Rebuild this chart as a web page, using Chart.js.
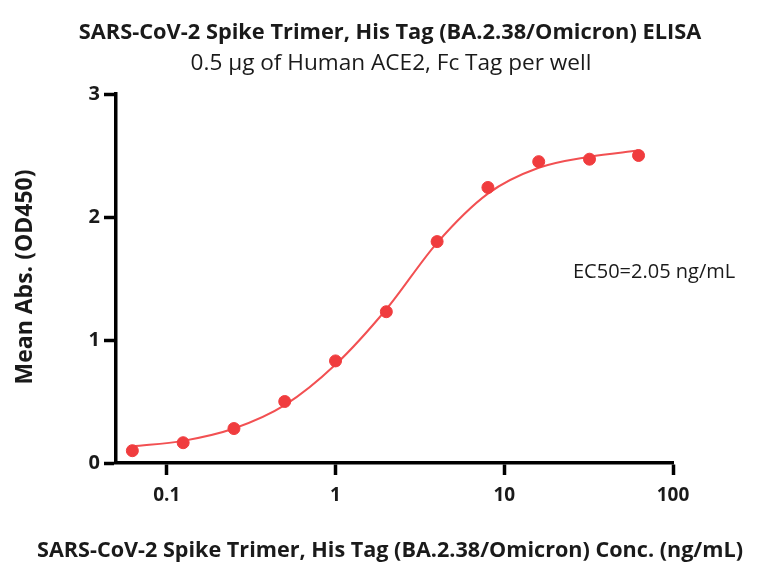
<!DOCTYPE html>
<html>
<head>
<meta charset="utf-8">
<script src="https://cdn.jsdelivr.net/npm/chart.js@4"></script>
<style>
  html, body { margin: 0; padding: 0; background: #fff; }
  #wrap { width: 760px; height: 562px; position: relative; }
</style>
</head>
<body>
<div id="wrap"><canvas id="chart"></canvas></div>
<script>
"use strict";

/* ---- Data ---- */
const concentrations = [0.0625, 0.125, 0.25, 0.5, 1, 2, 4, 8, 16, 32, 62.5];
const meanAbs        = [0.10, 0.165, 0.28, 0.50, 0.83, 1.23, 1.80, 2.24, 2.45, 2.47, 2.50];
const fitAbs         = [0.135, 0.18, 0.28, 0.47, 0.80, 1.25, 1.79, 2.19, 2.40, 2.49, 2.54];
const xTickValues    = [0.1, 1, 10, 100];
const yTickValues    = [0, 1, 2, 3];

const titleText    = "SARS-CoV-2 Spike Trimer, His Tag (BA.2.38/Omicron) ELISA";
const subtitleText = "0.5 µg of Human ACE2, Fc Tag per well";
const xTitleText   = "SARS-CoV-2 Spike Trimer, His Tag (BA.2.38/Omicron) Conc. (ng/mL)";
const yTitleText   = "Mean Abs. (OD450)";
const ec50Text     = "EC50=2.05 ng/mL";

const FONT = "'Open Sans', Lato, sans-serif";
const INK  = "#1a1a1a";
const RED  = "#F03C3E";

/* ---- Titles, axis titles and EC50 note ---- */
const annotations = {
  id: "annotations",
  afterDraw(chart) {
    const { ctx } = chart;
    ctx.save();
    ctx.fillStyle = INK;
    ctx.textBaseline = "alphabetic";
    ctx.textAlign = "center";

    ctx.font = `bold 21.8px ${FONT}`;
    ctx.fillText(titleText, 390, 39);
    ctx.font = `22.6px ${FONT}`;
    ctx.fillText(subtitleText, 391, 70);

    ctx.font = `bold 21.6px ${FONT}`;
    ctx.fillText(xTitleText, 390, 557);

    ctx.save();
    ctx.translate(32, 277);
    ctx.rotate(-Math.PI / 2);
    ctx.font = `bold 23px ${FONT}`;
    ctx.fillText(yTitleText, 0, 0);
    ctx.restore();

    ctx.textAlign = "left";
    ctx.font = `20px ${FONT}`;
    ctx.fillText(ec50Text, 573, 278);
    ctx.restore();
  },
};

new Chart(document.getElementById("chart"), {
  data: {
    datasets: [
      {
        type: "line",
        label: "Fit",
        data: concentrations.map((x, i) => ({ x, y: fitAbs[i] })),
        borderColor: "#F25052",
        borderWidth: 2,
        pointRadius: 0,
        cubicInterpolationMode: "monotone",
        fill: false,
        order: 2,
      },
      {
        type: "scatter",
        label: "Mean Abs.",
        data: concentrations.map((x, i) => ({ x, y: meanAbs[i] })),
        backgroundColor: RED,
        borderColor: RED,
        pointRadius: 6,
        order: 1,
      },
    ],
  },
  options: {
    responsive: true,
    maintainAspectRatio: false,
    animation: false,
    layout: { padding: { top: 94, right: 87, left: 0, bottom: 0 } },
    plugins: {
      legend: { display: false },
      tooltip: { enabled: false },
    },
    scales: {
      x: {
        type: "logarithmic",
        min: 0.05,
        max: 100,
        afterBuildTicks: s => { s.ticks = xTickValues.map(v => ({ value: v })); },
        ticks: {
          color: INK,
          font: { family: FONT, size: 19, weight: "bold" },
          padding: 9,
          maxRotation: 0,
          callback: v => String(v),
        },
        grid: { drawOnChartArea: false, drawTicks: true, tickLength: 12, tickWidth: 3.5, tickColor: "#000" },
        border: { display: true, width: 3.5, color: "#000" },
        afterFit: s => { s.height = 99; },
      },
      y: {
        min: 0,
        max: 3,
        afterBuildTicks: s => { s.ticks = yTickValues.map(v => ({ value: v })); },
        ticks: {
          color: INK,
          font: { family: FONT, size: 20, weight: "bold" },
          padding: 4,
        },
        grid: { drawOnChartArea: false, drawTicks: true, tickLength: 12, tickWidth: 3.5, tickColor: "#000" },
        border: { display: true, width: 3.5, color: "#000" },
        afterFit: s => { s.width = 116; },
      },
    },
  },
  plugins: [annotations],
});
</script>
</body>
</html>
